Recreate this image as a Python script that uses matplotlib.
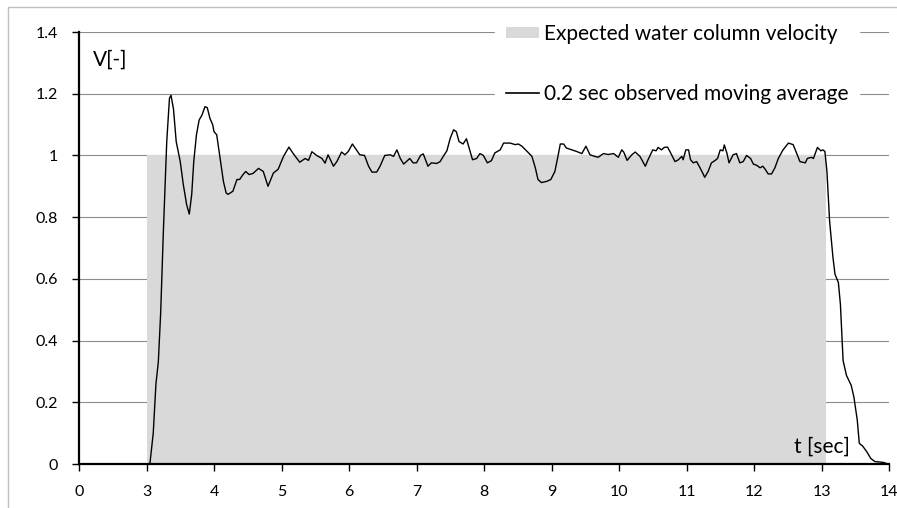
"""
Water column velocity: expected plateau vs. 0.2 s moving average of the observation.
"""
import matplotlib
matplotlib.use("Agg")
import matplotlib.pyplot as plt
from matplotlib.patches import Patch, Rectangle
from matplotlib.lines import Line2D

plt.rcParams['font.family'] = ['Lato', 'DejaVu Sans']

# expected water column velocity (plateau)
EXPECTED_T = [3.0, 13.06]
EXPECTED_V = [1.0, 1.0]

# 0.2 sec observed moving average
OBS_T = [3.00, 3.05, 3.10, 3.14, 3.175, 3.21, 3.25, 3.30, 3.34, 3.363, 3.40, 3.44,
         3.50, 3.545, 3.595, 3.634, 3.67, 3.70, 3.74, 3.78, 3.82, 3.867, 3.90, 3.94,
         3.98, 4.00, 4.04, 4.09, 4.14, 4.18, 4.21, 4.28, 4.34, 4.38, 4.43, 4.47,
         4.52, 4.58, 4.66, 4.73, 4.80, 4.88, 4.95, 5.03, 5.11, 5.17, 5.27, 5.35,
         5.40, 5.45, 5.52, 5.60, 5.645, 5.69, 5.77, 5.82, 5.89, 5.94, 5.99, 6.05,
         6.11, 6.16, 6.23, 6.29, 6.34, 6.41, 6.46, 6.53, 6.61, 6.66, 6.71, 6.76,
         6.81, 6.85, 6.90, 6.95, 7.00, 7.06, 7.10, 7.17, 7.22, 7.30, 7.35, 7.40,
         7.45, 7.50, 7.55, 7.59, 7.63, 7.69, 7.74, 7.78, 7.83, 7.89, 7.94, 7.99,
         8.05, 8.11, 8.16, 8.24, 8.29, 8.39, 8.46, 8.51, 8.56, 8.63, 8.71, 8.76,
         8.80, 8.85, 8.93, 8.99, 9.05, 9.10, 9.13, 9.18, 9.22, 9.30, 9.37, 9.45,
         9.51, 9.57, 9.64, 9.69, 9.77, 9.84, 9.92, 9.99, 10.04, 10.07, 10.12, 10.19,
         10.24, 10.31, 10.39, 10.43, 10.50, 10.55, 10.58, 10.63, 10.67, 10.72, 10.77, 10.83,
         10.88, 10.93, 10.95, 10.99, 11.03, 11.06, 11.10, 11.15, 11.20, 11.24, 11.27, 11.32,
         11.37, 11.42, 11.46, 11.50, 11.54, 11.56, 11.60, 11.63, 11.69, 11.74, 11.79, 11.84,
         11.89, 11.95, 11.99, 12.04, 12.09, 12.13, 12.16, 12.21, 12.26, 12.31, 12.36, 12.43,
         12.51, 12.58, 12.63, 12.68, 12.76, 12.79, 12.85, 12.88, 12.94, 12.99, 13.02, 13.05,
         13.08, 13.12, 13.17, 13.20, 13.25, 13.28, 13.32, 13.37, 13.44, 13.48, 13.53, 13.56,
         13.61, 13.67, 13.73, 13.79, 13.92, 13.96]
OBS_V = [0.0, 0.0, 0.10, 0.26, 0.33, 0.49, 0.755, 1.045, 1.185, 1.195, 1.15, 1.045,
         0.98, 0.906, 0.84, 0.81, 0.874, 0.98, 1.067, 1.115, 1.13, 1.158, 1.155, 1.12,
         1.10, 1.077, 1.067, 0.99, 0.915, 0.878, 0.874, 0.884, 0.922, 0.922, 0.938, 0.948,
         0.938, 0.942, 0.958, 0.948, 0.90, 0.943, 0.955, 0.997, 1.027, 1.007, 0.978, 0.99,
         0.984, 1.012, 1.0, 0.99, 0.975, 1.002, 0.965, 0.98, 1.011, 1.002, 1.013, 1.037,
         1.018, 1.002, 1.0, 0.965, 0.946, 0.946, 0.965, 1.0, 1.002, 0.997, 1.018, 0.99,
         0.972, 0.98, 0.99, 0.976, 0.976, 1.0, 1.005, 0.965, 0.976, 0.974, 0.98, 0.998,
         1.015, 1.056, 1.083, 1.077, 1.045, 1.037, 1.054, 1.024, 0.986, 0.99, 1.006, 1.0,
         0.976, 0.983, 1.008, 1.018, 1.04, 1.04, 1.035, 1.037, 1.03, 1.015, 0.997, 0.96,
         0.922, 0.912, 0.916, 0.922, 0.948, 1.002, 1.037, 1.037, 1.024, 1.018, 1.013, 1.006,
         1.03, 1.002, 0.997, 0.994, 1.006, 1.003, 1.006, 0.994, 1.018, 1.011, 0.984, 1.002,
         1.011, 0.997, 0.965, 0.986, 1.018, 1.015, 1.026, 1.018, 1.026, 1.027, 1.006, 0.98,
         0.986, 0.997, 0.986, 1.018, 1.018, 0.986, 0.976, 0.98, 0.96, 0.943, 0.929, 0.948,
         0.976, 0.983, 0.99, 1.018, 1.015, 1.034, 1.006, 0.976, 1.002, 1.006, 0.976, 0.98,
         1.0, 0.99, 0.972, 0.968, 0.96, 0.965, 0.957, 0.94, 0.94, 0.96, 0.99, 1.018,
         1.04, 1.035, 1.008, 0.98, 0.976, 0.99, 0.994, 0.99, 1.026, 1.015, 1.018, 1.013,
         0.95, 0.787, 0.669, 0.615, 0.588, 0.518, 0.335, 0.287, 0.255, 0.217, 0.142, 0.067,
         0.058, 0.04, 0.018, 0.008, 0.005, 0.002]

# x axis: first tick is labelled "0", then 3..14 (one unit apart)
X_TICKS = [2, 3, 4, 5, 6, 7, 8, 9, 10, 11, 12, 13, 14]
X_TICK_LABELS = ['0', '3', '4', '5', '6', '7', '8', '9', '10', '11', '12', '13', '14']
Y_TICKS = [0, 0.2, 0.4, 0.6, 0.8, 1.0, 1.2, 1.4]
Y_TICK_LABELS = ['0', '0.2', '0.4', '0.6', '0.8', '1', '1.2', '1.4']

LABEL_EXPECTED = 'Expected water column velocity'
LABEL_OBSERVED = '0.2 sec observed moving average'
FILL_COLOR = '#D9D9D9'
GRID_COLOR = '#8C8C8C'

fig = plt.figure(figsize=(8.97, 5.08), dpi=100)
ax = fig.add_axes([79 / 897, 44 / 508, 810 / 897, 432 / 508])

# outer chart-area frame (cut off at right and bottom)
fig.patches.append(Rectangle((7.5 / 897, -0.05), 1.0, (508 - 7.5) / 508 + 0.05,
                             transform=fig.transFigure, fill=False,
                             edgecolor='#BFBFBF', linewidth=1.0))

ax.fill_between(EXPECTED_T, 0, EXPECTED_V, color=FILL_COLOR, linewidth=0, zorder=1)
ax.plot(OBS_T, OBS_V, color='black', linewidth=1.0, zorder=2)

ax.set_xlim(2, 14)
ax.set_ylim(0, 1.4)
ax.set_xticks(X_TICKS)
ax.set_xticklabels(X_TICK_LABELS)
ax.set_yticks(Y_TICKS)
ax.set_yticklabels(Y_TICK_LABELS)

ax.set_axisbelow(True)
ax.grid(axis='y', color=GRID_COLOR, linewidth=0.8)
ax.tick_params(axis='both', direction='out', length=5, width=1, color='black',
               labelsize=11.5, pad=10)

for side in ('top', 'right'):
    ax.spines[side].set_visible(False)
for side in ('left', 'bottom'):
    ax.spines[side].set_linewidth(1.6)
    ax.spines[side].set_color('black')

ax.text(2.2, 1.31, 'V[-]', fontsize=15, ha='left', va='center')
ax.text(13.42, 0.057, 't [sec]', fontsize=15, ha='right', va='center')

handles = [Patch(facecolor=FILL_COLOR, edgecolor='none'),
           Line2D([], [], color='black', linewidth=1.2)]
leg = ax.legend(handles, [LABEL_EXPECTED, LABEL_OBSERVED], loc='upper left',
                bbox_to_anchor=(0.514, 1.043), fontsize=15, frameon=True,
                fancybox=False, framealpha=1, facecolor='white', edgecolor='white',
                labelspacing=1.92, handlelength=1.6, handleheight=0.5,
                handletextpad=0.25, borderpad=0.5, borderaxespad=0)
leg.set_zorder(5)

fig.savefig('out.png', dpi=100)
